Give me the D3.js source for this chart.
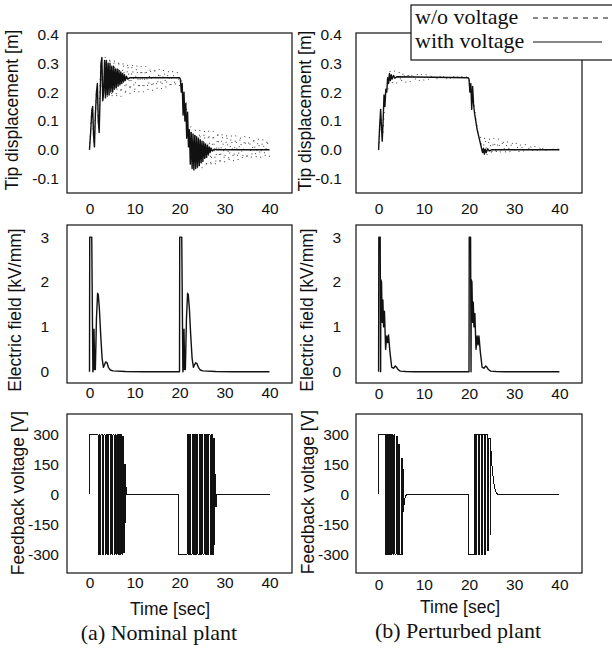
<!DOCTYPE html>
<html>
<head>
<meta charset="utf-8">
<script src="https://cdnjs.cloudflare.com/ajax/libs/d3/7.8.5/d3.min.js"></script>
<style>
body { margin: 0; background: #fff; }
.tick text { font-family: "Liberation Sans", Arial, sans-serif; font-size: 15.5px; fill: #111; }
.axis-label { font-family: "Liberation Sans", Arial, sans-serif; font-size: 17.5px; fill: #111; }
.serif { font-family: "Liberation Serif", "Times New Roman", serif; font-size: 22px; fill: #111; }
</style>
</head>
<body>
<div id="chart-area"></div>
<script>

// tick values and texts
var timeTicks = [0, 10, 20, 30, 40];
var dispTicks = [-0.1, 0.0, 0.1, 0.2, 0.3, 0.4];
var fieldTicks = [0, 1, 2, 3];
var voltTicks = [-300, -150, 0, 150, 300];

var legendLabels = ["w/o voltage", "with voltage"];
var captions = ["(a) Nominal plant", "(b) Perturbed plant"];
var yLabels = ["Tip displacement [m]", "Electric field [kV/mm]", "Feedback voltage [V]"];
var xLabel = "Time [sec]";

// tip displacement [m], nominal plant
var nominalDispWith = [
    [0,0],[0.25,0.06],[0.5,0.13],[0.7,0.15],[0.9,0.05],[1.1,0.01],[1.3,0.12],[1.55,0.2],[1.75,0.23],
    [1.95,0.1],[2.15,0.06],[2.35,0.18],[2.55,0.3],[2.75,0.32],[2.95,0.17],[3.15,0.2],[3.35,0.31],
    [3.55,0.18],[3.75,0.31],[3.95,0.19],[4.15,0.3],[4.35,0.19],[4.55,0.3],[4.75,0.2],[4.95,0.29],
    [5.15,0.2],[5.35,0.29],[5.55,0.21],[5.75,0.28],[5.95,0.215],[6.15,0.28],[6.35,0.22],[6.55,0.275],
    [6.75,0.225],[6.95,0.27],[7.15,0.23],[7.35,0.265],[7.55,0.235],[7.75,0.26],[7.95,0.24],[8.2,0.255],
    [8.5,0.245],[9,0.25],[20,0.25],
    [20.2,0.245],[20.4,0.2],[20.6,0.23],[20.8,0.12],[21.0,0.2],[21.2,0.1],[21.4,0.16],[21.6,0.04],
    [21.8,0.13],[22.0,0.01],[22.2,0.07],[22.4,-0.05],[22.6,0.06],[22.8,-0.065],[23.0,0.055],[23.2,-0.07],
    [23.4,0.05],[23.6,-0.065],[23.8,0.045],[24.0,-0.06],[24.2,0.04],[24.4,-0.055],[24.6,0.035],[24.8,-0.045],
    [25.0,0.03],[25.2,-0.04],[25.4,0.025],[25.6,-0.03],[25.8,0.02],[26.0,-0.025],[26.2,0.015],[26.4,-0.018],
    [26.6,0.01],[26.8,-0.01],[27.0,0.006],[27.3,-0.004],[27.7,0.002],[28.2,0],[40,0]
];
var nominalDispWithout = [
    [0,0],[0.5,0.15],[1.0,0.02],[1.5,0.2],[2.0,0.08],[2.5,0.3],[3.0,0.18],[3.5,0.32],[4.0,0.18],
    [4.5,0.32],[5.0,0.18],[5.5,0.315],[6.0,0.18],[6.5,0.31],[7.0,0.185],[7.5,0.305],[8.0,0.19],
    [8.5,0.3],[9.0,0.195],[9.5,0.3],[10.0,0.195],[10.5,0.295],[11.0,0.2],[11.5,0.29],[12.0,0.2],
    [12.5,0.29],[13.0,0.205],[13.5,0.285],[14.0,0.205],[14.5,0.285],[15.0,0.21],[15.5,0.28],[16.0,0.21],
    [16.5,0.28],[17.0,0.215],[17.5,0.275],[18.0,0.215],[18.5,0.275],[19.0,0.22],[19.5,0.27],[20.0,0.22],
    [20.5,0.24],[21.0,0.12],[21.5,0.17],[22.0,0.02],[22.5,0.08],[23.0,-0.07],[23.5,0.07],[24.0,-0.065],
    [24.5,0.07],[25.0,-0.065],[25.5,0.068],[26.0,-0.06],[26.5,0.066],[27.0,-0.058],[27.5,0.064],[28.0,-0.055],
    [28.5,0.062],[29.0,-0.05],[29.5,0.058],[30,-0.045],[30.5,0.055],[31,-0.042],[31.5,0.052],[32,-0.04],
    [32.5,0.05],[33,-0.038],[33.5,0.048],[34,-0.035],[34.5,0.046],[35,-0.033],[35.5,0.044],[36,-0.031],
    [36.5,0.042],[37,-0.03],[37.5,0.04],[38,-0.028],[38.5,0.038],[39,-0.026],[39.5,0.035],[40,-0.025]
];

// tip displacement [m], perturbed plant
var perturbedDispWith = [
    [0,0],[0.2,0.07],[0.45,0.14],[0.6,0.09],[0.8,0.03],[1.0,0.1],[1.2,0.19],[1.4,0.15],[1.6,0.21],
    [1.8,0.2],[2.0,0.25],[2.2,0.23],[2.4,0.265],[2.6,0.24],[2.8,0.26],[3.0,0.245],[3.3,0.258],[3.6,0.248],
    [4.0,0.253],[19.8,0.25],[20.0,0.245],[20.2,0.2],[20.4,0.23],[20.6,0.14],[20.8,0.22],[21.0,0.16],
    [21.2,0.13],[21.5,0.1],[21.8,0.07],[22.1,0.05],[22.4,0.03],[22.7,0.01],[23.0,-0.01],[23.2,0.005],
    [23.4,-0.015],[23.6,0.002],[23.8,-0.01],[24.1,0.003],[24.5,-0.004],[25,0],[40,0]
];
var perturbedDispWithout = [
    [0,0],[0.5,0.12],[1.0,0.06],[1.5,0.2],[2.0,0.2],[2.5,0.275],[3.0,0.23],[3.5,0.275],[4.0,0.23],
    [4.5,0.272],[5.0,0.232],[5.5,0.27],[6.0,0.234],[6.5,0.268],[7.0,0.236],[7.5,0.266],[8.0,0.238],
    [8.5,0.264],[9.0,0.24],[9.5,0.262],[10.0,0.241],[10.5,0.261],[11.0,0.242],[11.5,0.26],[12.0,0.243],
    [12.5,0.259],[13.0,0.244],[13.5,0.258],[14.0,0.244],[14.5,0.258],[15.0,0.245],[15.5,0.257],[16.0,0.245],
    [16.5,0.257],[17.0,0.246],[17.5,0.256],[18.0,0.246],[18.5,0.256],[19.0,0.247],[19.5,0.255],[20.0,0.25],
    [20.5,0.21],[21.0,0.17],[21.5,0.11],[22.0,0.06],[22.5,0.05],[23.0,-0.015],[23.5,0.045],[24.0,-0.018],
    [24.5,0.042],[25.0,-0.018],[25.5,0.04],[26.0,-0.016],[26.5,0.038],[27.0,-0.015],[27.5,0.035],[28.0,-0.013],
    [28.5,0.032],[29.0,-0.012],[29.5,0.03],[30.0,-0.011],[30.5,0.026],[31.0,-0.01],[31.5,0.023],[32.0,-0.009],
    [32.5,0.02],[33.0,-0.008],[33.5,0.018],[34.0,-0.007],[34.5,0.015],[35.0,-0.006],[35.5,0.012],[36.0,-0.005],
    [36.5,0.01],[37.0,-0.004],[37.5,0.008],[38.0,-0.004],[38.5,0.006],[39.0,-0.003],[39.5,0.005],[40.0,0]
];

// electric field [kV/mm]
var nominalField = [
    [0,0],[0.05,3.0],[0.5,3.0],[0.75,0.0],[0.9,0.1],[1.0,0.95],[1.15,0.05],[1.3,0.05],[1.55,1.2],
    [1.8,1.75],[1.95,1.72],[2.2,1.4],[2.5,0.8],[2.8,0.3],[3.1,0.1],[3.3,0.15],[3.6,0.22],[3.9,0.2],
    [4.2,0.1],[4.6,0.04],[5.2,0.02],[8,0.005],[12,0],[20,0],
    [20.05,3.0],[20.5,3.0],[20.75,0.0],[20.9,0.1],[21.0,0.95],[21.15,0.05],[21.3,0.05],[21.55,1.2],
    [21.8,1.75],[21.95,1.72],[22.2,1.4],[22.5,0.8],[22.8,0.3],[23.1,0.1],[23.3,0.15],[23.6,0.2],[23.9,0.18],
    [24.2,0.1],[24.6,0.04],[25.2,0.02],[28,0.005],[32,0],[40,0]
];
var perturbedField = [
    [0,0],[0.05,3.0],[0.35,3.0],[0.45,0.0],[0.5,2.05],[0.65,2.0],[0.8,1.1],[0.95,1.6],[1.1,1.0],
    [1.3,1.35],[1.55,0.5],[1.8,0.8],[2.0,0.65],[2.2,0.82],[2.5,0.45],[2.9,0.1],[3.3,0.08],[3.7,0.13],
    [4.0,0.1],[4.3,0.05],[4.8,0.015],[6,0.005],[8,0],[20,0],
    [20.05,3.0],[20.35,3.0],[20.45,0],[20.5,2.05],[20.65,2.0],[20.8,1.1],[20.95,1.55],[21.1,1.0],
    [21.3,1.3],[21.55,0.5],[21.8,0.8],[22.0,0.6],[22.2,0.8],[22.5,0.45],[22.9,0.1],[23.3,0.08],[23.7,0.13],
    [24.0,0.1],[24.3,0.05],[24.8,0.015],[26,0.005],[28,0],[40,0]
];

// feedback voltage [V]
var nominalVolt = [
    [0,0],[0,300],[1.9,300],
    [1.9,-300],[2.15,-300],[2.15,300],[2.35,300],[2.35,-300],[2.55,-300],[2.55,300],
    [2.95,300],[2.95,-300],[3.2,-300],[3.2,300],[3.45,300],[3.45,-300],
    [3.7,-300],[3.7,300],[3.95,300],[3.95,-300],[4.25,-300],[4.25,300],
    [4.6,300],[4.6,-300],[4.8,-300],[4.8,300],[5.0,300],[5.0,-300],
    [5.2,-300],[5.2,300],[5.45,300],[5.45,-300],[5.7,-300],[5.7,300],[5.9,300],[5.9,-300],
    [6.1,-300],[6.1,300],[6.3,300],[6.3,-300],[6.5,-300],[6.5,300],
    [6.65,300],[6.65,-300],[6.9,-300],[6.9,300],[7.2,300],[7.2,-300],
    [7.4,-300],[7.4,290],[7.6,290],[7.6,-290],[7.8,-290],[7.8,150],[7.95,150],[7.95,-140],
    [8.1,-140],[8.1,40],[8.25,0],[19.8,0],
    [19.8,-300],[21.7,-300],
    [21.7,300],[21.95,300],[21.95,-300],[22.15,-300],[22.15,300],[22.4,300],[22.4,-300],
    [22.8,-300],[22.8,300],[23.05,300],[23.05,-300],[23.3,-300],[23.3,300],
    [23.6,300],[23.6,-300],[23.85,-300],[23.85,300],[24.1,300],[24.1,-300],
    [24.45,-300],[24.45,300],[24.7,300],[24.7,-300],[24.9,-300],[24.9,300],
    [25.2,300],[25.2,-300],[25.45,-300],[25.45,300],[25.7,300],[25.7,-300],
    [26.0,-300],[26.0,300],[26.25,300],[26.25,-300],[26.5,-300],[26.5,300],
    [26.8,300],[26.8,-300],[27.05,-300],[27.05,300],[27.3,300],[27.3,-300],
    [27.5,-300],[27.5,280],[27.7,280],[27.7,-250],[27.85,-250],[27.85,100],[28.0,100],[28.0,-60],
    [28.15,-60],[28.15,0],[40,0]
];
var perturbedVolt = [
    [0,0],[0,300],[1.5,300],
    [1.5,-300],[1.75,-300],[1.75,300],[2.0,300],[2.0,-300],[2.2,-300],[2.2,300],
    [2.4,300],[2.4,-300],[2.6,-300],[2.6,300],[2.8,300],[2.8,-300],
    [3.0,-300],[3.0,300],[3.2,300],[3.2,-300],[3.4,-300],[3.4,300],
    [3.6,300],[3.6,-300],[3.85,-300],[3.85,290],
    [4.1,290],[4.1,-300],[4.4,-300],[4.4,250],
    [4.6,250],[4.6,-300],[5.0,-300],[5.0,180],
    [5.2,180],[5.2,-300],[5.35,-300],[5.4,130],[5.45,-85],[5.6,-55],[5.8,-20],[6.0,-6],[6.3,0],[19.8,0],
    [19.8,-300],[21.2,-300],
    [21.2,300],[21.4,300],[21.4,-300],[21.6,-300],[21.6,300],
    [22.1,300],[22.1,-300],[22.3,-300],[22.3,300],
    [22.75,300],[22.75,-300],[22.95,-300],[22.95,300],
    [23.4,300],[23.4,-300],[23.6,-300],[23.6,300],
    [24.05,300],[24.05,-280],[24.25,-280],[24.25,280],
    [24.7,280],[24.7,-200],[24.85,-200],[24.85,230],[24.95,190],[25.1,140],
    [25.3,95],[25.5,55],[25.7,30],[26.0,10],[26.4,0],[40,0]
];

var svg = d3.select("#chart-area")
    .append("svg")
    .attr("width", 612)
    .attr("height", 662);

var colX = [[67, 292], [356, 582]];
var rowY = [[33, 193], [225, 383], [414, 573]];

function fmtDisp(d) { return d.toFixed(1); }
function fmtInt(d) { return d < 0 ? "-" + Math.abs(d) : "" + d; }

var panels = [
    {col:0, row:0, domain:[-0.15, 0.405], ticks:dispTicks, fmt:fmtDisp, yPad:8, xPad:10, lab:[18.3, 110],
        lines:[{data:nominalDispWithout, dash:true}, {data:nominalDispWith}]},
    {col:1, row:0, domain:[-0.15, 0.405], ticks:dispTicks, fmt:fmtDisp, yPad:14, xPad:10, lab:[311.3, 111],
        lines:[{data:perturbedDispWithout, dash:true}, {data:perturbedDispWith}]},
    {col:0, row:1, domain:[-0.25, 3.27], ticks:fieldTicks, fmt:fmtInt, yPad:18, xPad:4, lab:[21.3, 310],
        lines:[{data:nominalField}]},
    {col:1, row:1, domain:[-0.25, 3.27], ticks:fieldTicks, fmt:fmtInt, yPad:15, xPad:5, lab:[313.3, 310],
        lines:[{data:perturbedField}]},
    {col:0, row:2, domain:[-395, 405], ticks:voltTicks, fmt:fmtInt, yPad:8, xPad:4, lab:[24.3, 493],
        lines:[{data:nominalVolt, volt:true}]},
    {col:1, row:2, domain:[-395, 405], ticks:voltTicks, fmt:fmtInt, yPad:7, xPad:6, lab:[314.3, 492],
        lines:[{data:perturbedVolt, volt:true}]}
];

panels.forEach(function(p){
    var x0 = colX[p.col][0], x1 = colX[p.col][1];
    var y0 = rowY[p.row][0], y1 = rowY[p.row][1];

    var x = d3.scaleLinear().domain([-5, 45]).range([x0, x1]);
    var y = d3.scaleLinear().domain(p.domain).range([y1, y0]);

    var g = svg.append("g");

    var line = d3.line()
        .x(function(d){ return x(d[0]); })
        .y(function(d){ return y(d[1]); });

    p.lines.forEach(function(s){
        g.append("path")
            .datum(s.data)
            .attr("fill", "none")
            .attr("stroke", s.dash ? "#222" : "#111")
            .attr("stroke-width", s.dash ? 0.9 : (s.volt ? 1 : 1.4))
            .attr("stroke-dasharray", s.dash ? "1,5.5" : null)
            .attr("stroke-linejoin", "round")
            .attr("shape-rendering", s.volt ? "crispEdges" : null)
            .attr("d", line);
    });

    g.append("rect")
        .attr("x", x0)
        .attr("y", y0)
        .attr("width", x1 - x0)
        .attr("height", y1 - y0)
        .attr("fill", "none")
        .attr("stroke", "#111")
        .attr("stroke-width", 1.2);

    var xAxisCall = d3.axisBottom(x)
        .tickValues(timeTicks)
        .tickSize(0)
        .tickPadding(p.xPad);
    g.append("g")
        .attr("transform", "translate(0," + y1 + ")")
        .call(xAxisCall)
        .call(function(a){ a.select(".domain").remove(); });

    var yAxisCall = d3.axisLeft(y)
        .tickValues(p.ticks)
        .tickSize(0)
        .tickPadding(p.yPad)
        .tickFormat(p.fmt);
    g.append("g")
        .attr("transform", "translate(" + x0 + ",0)")
        .call(yAxisCall)
        .call(function(a){ a.select(".domain").remove(); });

    g.append("text")
        .attr("class", "axis-label")
        .attr("text-anchor", "middle")
        .attr("transform", "translate(" + p.lab[0] + "," + p.lab[1] + ") rotate(-90)")
        .text(yLabels[p.row]);
});

// x labels and captions
var bottomText = [
    {x:170, y:615, cap:[159, 640]},
    {x:460, y:613, cap:[458, 638]}
];
bottomText.forEach(function(b, i){
    svg.append("text")
        .attr("class", "axis-label")
        .attr("text-anchor", "middle")
        .attr("x", b.x)
        .attr("y", b.y)
        .text(xLabel);
    svg.append("text")
        .attr("class", "serif")
        .attr("text-anchor", "middle")
        .attr("x", b.cap[0])
        .attr("y", b.cap[1])
        .text(captions[i]);
});

// legend box, drawn over the top right frame
var legend = svg.append("g");
legend.append("rect")
    .attr("x", 411)
    .attr("y", 5)
    .attr("width", 215)
    .attr("height", 55)
    .attr("fill", "#fff")
    .attr("stroke", "#111")
    .attr("stroke-width", 1.2);

legendLabels.forEach(function(t, i){
    var yy = i == 0 ? 24 : 48;
    legend.append("text")
        .attr("class", "serif")
        .attr("x", 415)
        .attr("y", yy)
        .text(t);
    legend.append("line")
        .attr("x1", 533)
        .attr("x2", i == 0 ? 612 : 602)
        .attr("y1", yy - 6)
        .attr("y2", yy - 6)
        .attr("stroke", "#111")
        .attr("stroke-width", 1.2)
        .attr("stroke-dasharray", i == 0 ? "5,5" : null);
});

</script>
</body>
</html>
